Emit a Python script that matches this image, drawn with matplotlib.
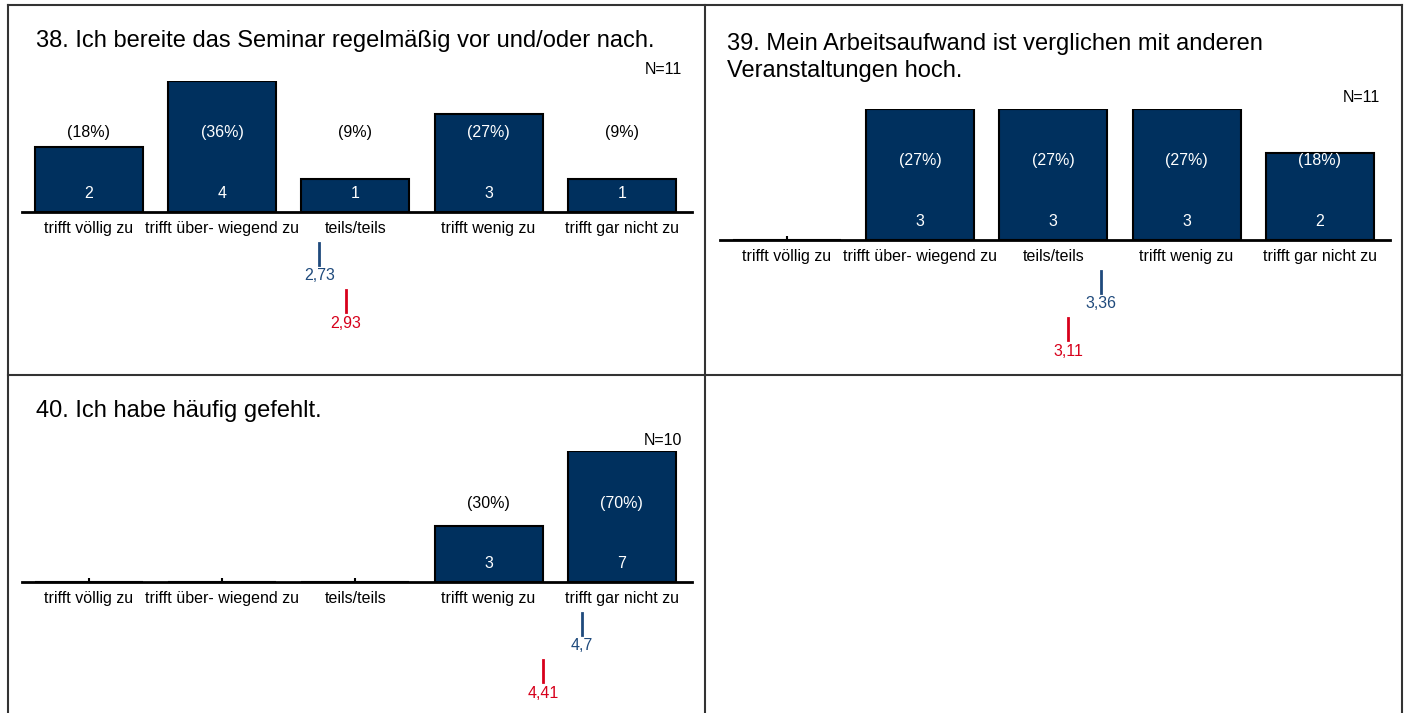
import matplotlib
matplotlib.use('Agg')
import matplotlib.pyplot as plt
from matplotlib.lines import Line2D

plt.rcParams['font.family'] = ['Liberation Sans', 'DejaVu Sans']

# data
categories = ['trifft völlig zu', 'trifft über- wiegend zu', 'teils/teils',
              'trifft wenig zu', 'trifft gar nicht zu']
titles = ['38. Ich bereite das Seminar regelmäßig vor und/oder nach.',
          '39. Mein Arbeitsaufwand ist verglichen mit anderen\nVeranstaltungen hoch.',
          '40. Ich habe häufig gefehlt.']
counts_38 = [2, 4, 1, 3, 1]
counts_39 = [0, 3, 3, 3, 2]
counts_40 = [0, 0, 0, 3, 7]
n_values = [11, 11, 10]
mean_course = [2.73, 3.36, 4.7]     # blue marker
mean_compare = [2.93, 3.11, 4.41]   # red marker

BAR = '#00305e'
BLUE = '#1f4a7c'
RED = '#d7001b'
W, H = 1406, 713

fig = plt.figure(figsize=(W / 100, H / 100), dpi=100)


def fx(px):
    return px / W


def fy(py):
    return 1 - py / H


# panel frame
frame = dict(color='#333333', lw=1.5)
for x in (8, 705, 1402):
    fig.add_artist(Line2D([fx(x), fx(x)], [fy(5), 0], transform=fig.transFigure, **frame))
for y in (5, 375):
    fig.add_artist(Line2D([fx(8), fx(1402)], [fy(y), fy(y)], transform=fig.transFigure, **frame))

# layout per panel: title x, title (last line) baseline y, axis left, axis baseline
layout = [(36, 47, 22, 212), (727, 77, 720, 240), (36, 417, 22, 582)]
all_counts = [counts_38, counts_39, counts_40]

for i, counts in enumerate(all_counts):
    tx, ty, ax_left, base = layout[i]
    n = n_values[i]
    top = max(counts)
    k = top / 131  # data units per pixel
    fig.text(fx(tx), fy(ty), titles[i], fontsize=17, ha='left', va='baseline',
             linespacing=1.27)

    ax = fig.add_axes([fx(ax_left), fy(base), 670 / W, 131 / H])
    xs = list(range(1, 6))
    ax.bar(xs, counts, width=0.81, color=BAR, edgecolor='black', linewidth=1.5, zorder=2)
    ax.set_xlim(0.5, 0.5 + 670 / 133.3)
    ax.set_ylim(0, top)
    for s in ('top', 'right', 'left'):
        ax.spines[s].set_visible(False)
    ax.spines['bottom'].set_linewidth(2)
    ax.spines['bottom'].set_zorder(3)
    ax.set_yticks([])
    ax.set_xticks(xs)
    ax.set_xticklabels(categories, fontsize=11.5)
    ax.tick_params(axis='x', direction='in', length=3, width=1.5, pad=6.5)

    for x, c in zip(xs, counts):
        if c == 0:
            continue
        pct = round(100 * c / n)
        col = 'white' if c / k > 79 else 'black'
        ax.text(x, 79 * k, f'({pct}%)', ha='center', va='center', fontsize=11.5,
                color=col, zorder=4)
        ax.text(x, 19 * k, str(c), ha='center', va='center', fontsize=11.5,
                color='white', zorder=4)

    ax.text(1, 142 / 131, f'N={n}', transform=ax.transAxes, ha='right', va='center',
            fontsize=11.5)
    # shift N label 10 px left
    ax.texts[-1].set_x(1 - 10 / 670)

    # mean markers below the axis
    for m, col, off in ((mean_course[i], BLUE, 0), (mean_compare[i], RED, 47)):
        ax.plot([m, m], [-(31 + off) * k, -(53 + off) * k], color=col, lw=2,
                clip_on=False)
        label = f'{m:.2f}'.rstrip('0').replace('.', ',')
        ax.text(m, -(64 + off) * k, label, ha='center', va='center', fontsize=11.5,
                color=col, clip_on=False)

fig.savefig('out.png', dpi=100)
